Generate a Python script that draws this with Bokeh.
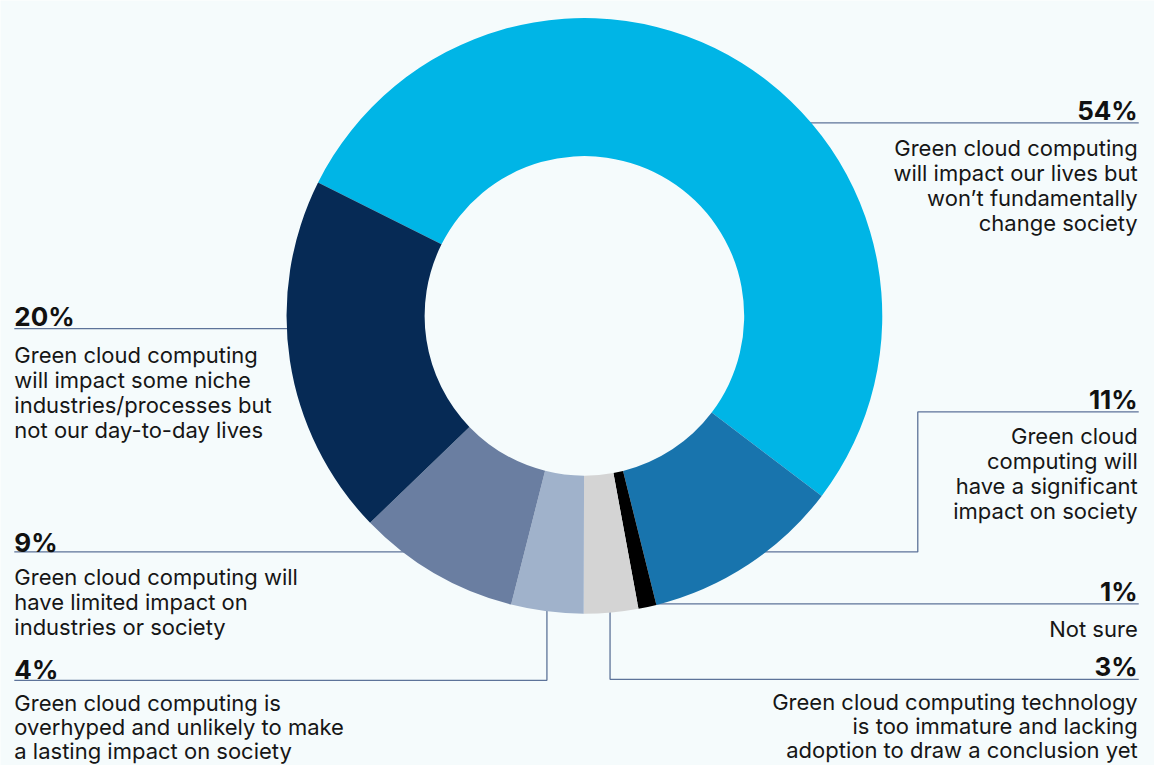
from bokeh.plotting import figure
from bokeh.models import Range1d
from bokeh.core.properties import value
from bokeh.embed import file_html
from bokeh.resources import INLINE
import numpy as np

# ---------------- data ----------------
values = [54, 11, 1, 3, 4, 9, 20]
descriptions = [
    "Green cloud computing\nwill impact our lives but\nwon\u2019t fundamentally\nchange society",
    "Green cloud\ncomputing will\nhave a significant\nimpact on society",
    "Not sure",
    "Green cloud computing technology\nis too immature and lacking\nadoption to draw a conclusion yet",
    "Green cloud computing is\noverhyped and unlikely to make\na lasting impact on society",
    "Green cloud computing will\nhave limited impact on\nindustries or society",
    "Green cloud computing\nwill impact some niche\nindustries/processes but\nnot our day-to-day lives",
]
colors = ["#00b5e6", "#1874ad", "#000000", "#d4d4d4", "#a0b2cb", "#6a7ea1", "#062a55"]

# ---------------- layout (reference pixel coords) ----------------
W, H = 1170, 781
M = 8
BG = "#f5fbfc"
FONT = "Inter"
CX, CY = 592, 322
R_IN, R_OUT = 162, 302
START_DEG = 153.4  # math angle where first slice starts, going clockwise

def Y(y):
    return H - y

# side, text x, pct baseline, first body baseline, line step
blocks = [
    ("right", 1153, 112, 151, 25.5),
    ("right", 1153, 407, 445, 25.5),
    ("right", 1153, 603, 642, 25.5),
    ("right", 1153, 680, 716, 24.5),
    ("left", 14, 683, 717, 24.5),
    ("left", 14, 553, 589, 25.5),
    ("left", 14, 323, 362, 25.5),
]

leaders = [
    [(800, 125), (1154, 125)],
    [(760, 563), (930, 563), (930, 420), (1154, 420)],
    [(640, 616), (1154, 616)],
    [(618, 605), (618, 693), (1154, 693)],
    [(554, 605), (554, 694), (14, 694)],
    [(440, 563), (14, 563)],
    [(320, 335), (14, 335)],
]

p = figure(width=W - 2 * M, height=H - 2 * M, output_backend="svg",
           toolbar_location=None, x_range=Range1d(0, W),
           y_range=Range1d(0, H), min_border=0,
           background_fill_color=BG, border_fill_color=BG)
p.axis.visible = False
p.grid.visible = False
p.outline_line_color = None

# leader lines (under the donut)
for pts in leaders:
    xs = [a for a, b in pts]
    ys = [Y(b) for a, b in pts]
    p.line(xs, ys, line_color="#5d7399", line_width=1.3)

# donut
vals = np.array(values, dtype=float)
total = vals.sum()
cum = np.concatenate([[0], np.cumsum(vals)[:-1]])
starts = np.radians(START_DEG - cum / total * 360)
ends = np.radians(START_DEG - (cum + vals) / total * 360)
p.annular_wedge(x=[CX] * len(vals), y=[Y(CY)] * len(vals),
                inner_radius=R_IN, outer_radius=R_OUT,
                start_angle=starts, end_angle=ends, direction="clock",
                fill_color=colors, line_color=None)

# labels
for v, desc, (side, tx, pb, bb, step) in zip(values, descriptions, blocks):
    align = "right" if side == "right" else "left"
    p.text(x=[tx], y=[Y(pb)], text=[f"{v}%"], text_align=align,
           text_baseline="alphabetic", text_font=value(FONT),
           text_font_style="bold", text_font_size="26px", text_color="#111111")
    lines = desc.split("\n")
    p.text(x=[tx] * len(lines), y=[Y(bb + i * step) for i in range(len(lines))],
           text=lines, text_align=align, text_baseline="alphabetic",
           text_font=value(FONT), text_font_size="22px", text_color="#161616")

open("out.html", "w").write(file_html(p, INLINE))
